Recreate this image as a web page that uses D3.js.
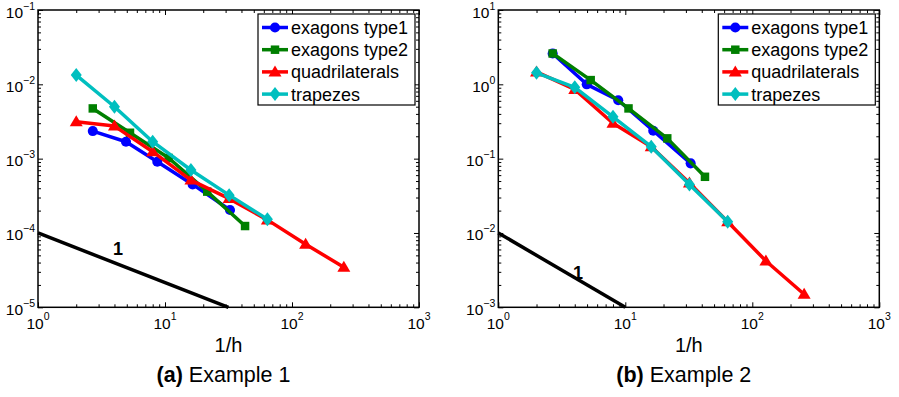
<!DOCTYPE html>
<html>
<head>
<meta charset="utf-8">
<script src="https://cdn.jsdelivr.net/npm/d3@7"></script>
<style>
  body { margin: 0; background: #fff; }
  svg { display: block; font-family: "Liberation Sans", Arial, Helvetica, sans-serif; }
</style>
</head>
<body>
<svg id="chart" width="899" height="397"></svg>
<script>
// series definitions
const seriesNames = ["exagons type1", "exagons type2", "quadrilaterals", "trapezes"];
const seriesColors = ["#0000ff", "#007f00", "#ff0000", "#00bfbf"];
const seriesMarkers = ["circle", "square", "triangle", "diamond"];

// x axis (1/h) shared by both panels
const xDomain = [1, 1000];
const xTickExps = ["0", "1", "2", "3"];

// Example 1
const ex1YDomain = [1e-5, 1e-1];
const ex1YTickExps = ["\u22125", "\u22124", "\u22123", "\u22122", "\u22121"];
const ex1Hex1X = [2.7, 4.93, 8.7, 16.5, 32.5];
const ex1Hex1Y = [2.35e-3, 1.69e-3, 9.1e-4, 4.5e-4, 2.04e-4];
const ex1Hex2X = [2.7, 5.3, 10.7, 21.5, 42.7];
const ex1Hex2Y = [4.74e-3, 2.23e-3, 1.02e-3, 3.6e-4, 1.24e-4];
const ex1QuadX = [2, 4, 8, 16, 32, 64, 128, 256];
const ex1QuadY = [3.13e-3, 2.74e-3, 1.24e-3, 5.15e-4, 2.9e-4, 1.5e-4, 7.05e-5, 3.46e-5];
const ex1TrapX = [2, 4, 8, 16, 32, 64];
const ex1TrapY = [1.33e-2, 4.99e-3, 1.69e-3, 7.03e-4, 3.23e-4, 1.53e-4];
const ex1RefX = [1, 31.6];
const ex1RefY = [1e-4, 1e-5];
const ex1RefLabel = { x: 4.27, y: 5.0e-5, text: "1" };

// Example 2
const ex2YDomain = [1e-3, 1e1];
const ex2YTickExps = ["\u22123", "\u22122", "\u22121", "0", "1"];
const ex2Hex1X = [2.68, 4.97, 8.8, 16.6, 32.7];
const ex2Hex1Y = [2.6, 1.0, 0.61, 0.237, 0.0865];
const ex2Hex2X = [2.68, 5.34, 10.6, 21.4, 42.4];
const ex2Hex2Y = [2.6, 1.14, 0.474, 0.1875, 0.057];
const ex2QuadX = [2, 4, 8, 16, 32, 64, 128, 256];
const ex2QuadY = [1.47, 0.853, 0.30, 0.145, 0.047, 0.0142, 4.2e-3, 1.5e-3];
const ex2TrapX = [2, 4, 8, 16, 32, 64];
const ex2TrapY = [1.43, 0.91, 0.366, 0.145, 0.045, 0.0142];
const ex2RefX = [1, 10];
const ex2RefY = [1e-2, 1e-3];
const ex2RefLabel = { x: 4.24, y: 2.4e-3, text: "1" };

const svg = d3.select("#chart");

function markerPath(type) {
  if (type === "circle") return d3.symbol(d3.symbolCircle, 80)();
  if (type === "square") return d3.symbol(d3.symbolSquare, 72)();
  if (type === "triangle") return "M0,-6.5L6.5,4.5L-6.5,4.5Z";
  return "M0,-7L5.5,0L0,7L-5.5,0Z";
}

function drawPanel(p) {
  const x = d3.scaleLog().domain(xDomain).range([p.left, p.right]);
  const y = d3.scaleLog().domain(p.yDomain).range([p.bottom, p.top]);
  const g = svg.append("g");

  const allX = x.ticks();
  const allY = y.ticks();
  const isMajor = v => Math.abs(Math.log10(v) - Math.round(Math.log10(v))) < 1e-9;
  const xMaj = allX.filter(isMajor), xMin = allX.filter(v => !isMajor(v));
  const yMaj = allY.filter(isMajor), yMin = allY.filter(v => !isMajor(v));

  // inside ticks on all four sides
  const sides = [
    [d3.axisBottom, x, `translate(0,${p.bottom})`, xMaj, xMin],
    [d3.axisTop, x, `translate(0,${p.top})`, xMaj, xMin],
    [d3.axisLeft, y, `translate(${p.left},0)`, yMaj, yMin],
    [d3.axisRight, y, `translate(${p.right},0)`, yMaj, yMin]
  ];
  sides.forEach(([ax, sc, tr, maj, min]) => {
    [[maj, -5], [min, -3]].forEach(([vals, len]) => {
      const a = g.append("g").attr("transform", tr)
        .call(ax(sc).tickValues(vals).tickSize(len).tickFormat(""));
      a.select(".domain").remove();
      a.selectAll(".tick line").attr("stroke", "#000").attr("stroke-width", 1);
    });
  });

  // frame
  g.append("rect")
    .attr("x", p.left).attr("y", p.top)
    .attr("width", p.right - p.left).attr("height", p.bottom - p.top)
    .attr("fill", "none").attr("stroke", "#000").attr("stroke-width", 1.5);

  // x tick labels
  xMaj.forEach((v, i) => {
    const t = g.append("text")
      .attr("x", x(v)).attr("y", p.bottom + 22)
      .attr("text-anchor", "middle").attr("font-size", 15.5).attr("fill", "#000");
    t.append("tspan").text("10");
    t.append("tspan").attr("font-size", 10.5).attr("dy", -9).text(xTickExps[i]);
  });

  // y tick labels
  yMaj.forEach((v, i) => {
    const t = g.append("text")
      .attr("x", p.left - 3).attr("y", y(v) + 7.5)
      .attr("text-anchor", "end").attr("font-size", 15.5).attr("fill", "#000");
    t.append("tspan").text("10");
    t.append("tspan").attr("font-size", 10.5).attr("dy", -8).text(p.yTickExps[i]);
  });

  // reference slope line
  const line = d3.line().x(d => x(d[0])).y(d => y(d[1]));
  g.append("path")
    .datum(p.refX.map((v, i) => [v, p.refY[i]]))
    .attr("d", line)
    .attr("fill", "none").attr("stroke", "#000").attr("stroke-width", 3.5);
  g.append("text")
    .attr("x", x(p.refLabel.x)).attr("y", y(p.refLabel.y))
    .attr("text-anchor", "middle").attr("font-size", 18).attr("font-weight", "bold")
    .text(p.refLabel.text);

  // series
  p.series.forEach((s, k) => {
    const pts = s.x.map((v, i) => [v, s.y[i]]);
    g.append("path").datum(pts).attr("d", line)
      .attr("fill", "none").attr("stroke", seriesColors[k])
      .attr("stroke-width", 3.5).attr("stroke-linejoin", "round");
    g.selectAll(null).data(pts).enter().append("path")
      .attr("transform", d => `translate(${x(d[0])},${y(d[1])})`)
      .attr("d", markerPath(seriesMarkers[k]))
      .attr("fill", seriesColors[k]);
  });

  // legend
  const lx = p.right - 161, ly = p.top + 4;
  g.append("rect").attr("x", lx).attr("y", ly).attr("width", 157).attr("height", 91)
    .attr("fill", "#fff").attr("stroke", "#000").attr("stroke-width", 1.2);
  seriesNames.forEach((name, k) => {
    const ry = ly + 13.5 + k * 22.2;
    g.append("line").attr("x1", lx + 4).attr("x2", lx + 30).attr("y1", ry).attr("y2", ry)
      .attr("stroke", seriesColors[k]).attr("stroke-width", 3.5);
    g.append("path").attr("transform", `translate(${lx + 17},${ry})`)
      .attr("d", markerPath(seriesMarkers[k])).attr("fill", seriesColors[k]);
    g.append("text").attr("x", lx + 33).attr("y", ry + 6.5)
      .attr("font-size", 18).attr("fill", "#000").text(name);
  });

  // axis label and caption
  const cx = (p.left + p.right) / 2;
  g.append("text").attr("x", cx).attr("y", 352)
    .attr("text-anchor", "middle").attr("font-size", 20).text("1/h");
  const cap = g.append("text").attr("x", cx - 5).attr("y", 382)
    .attr("text-anchor", "middle").attr("font-size", 21.5);
  cap.append("tspan").attr("font-weight", "bold").text(p.capTag);
  cap.append("tspan").text(p.capText);
}

drawPanel({
  left: 38, right: 419, top: 10, bottom: 307.3,
  yDomain: ex1YDomain, yTickExps: ex1YTickExps,
  refX: ex1RefX, refY: ex1RefY, refLabel: ex1RefLabel,
  series: [
    { x: ex1Hex1X, y: ex1Hex1Y },
    { x: ex1Hex2X, y: ex1Hex2Y },
    { x: ex1QuadX, y: ex1QuadY },
    { x: ex1TrapX, y: ex1TrapY }
  ],
  capTag: "(a)", capText: " Example 1"
});

drawPanel({
  left: 498.3, right: 879.3, top: 10, bottom: 307.3,
  yDomain: ex2YDomain, yTickExps: ex2YTickExps,
  refX: ex2RefX, refY: ex2RefY, refLabel: ex2RefLabel,
  series: [
    { x: ex2Hex1X, y: ex2Hex1Y },
    { x: ex2Hex2X, y: ex2Hex2Y },
    { x: ex2QuadX, y: ex2QuadY },
    { x: ex2TrapX, y: ex2TrapY }
  ],
  capTag: "(b)", capText: " Example 2"
});
</script>
</body>
</html>
